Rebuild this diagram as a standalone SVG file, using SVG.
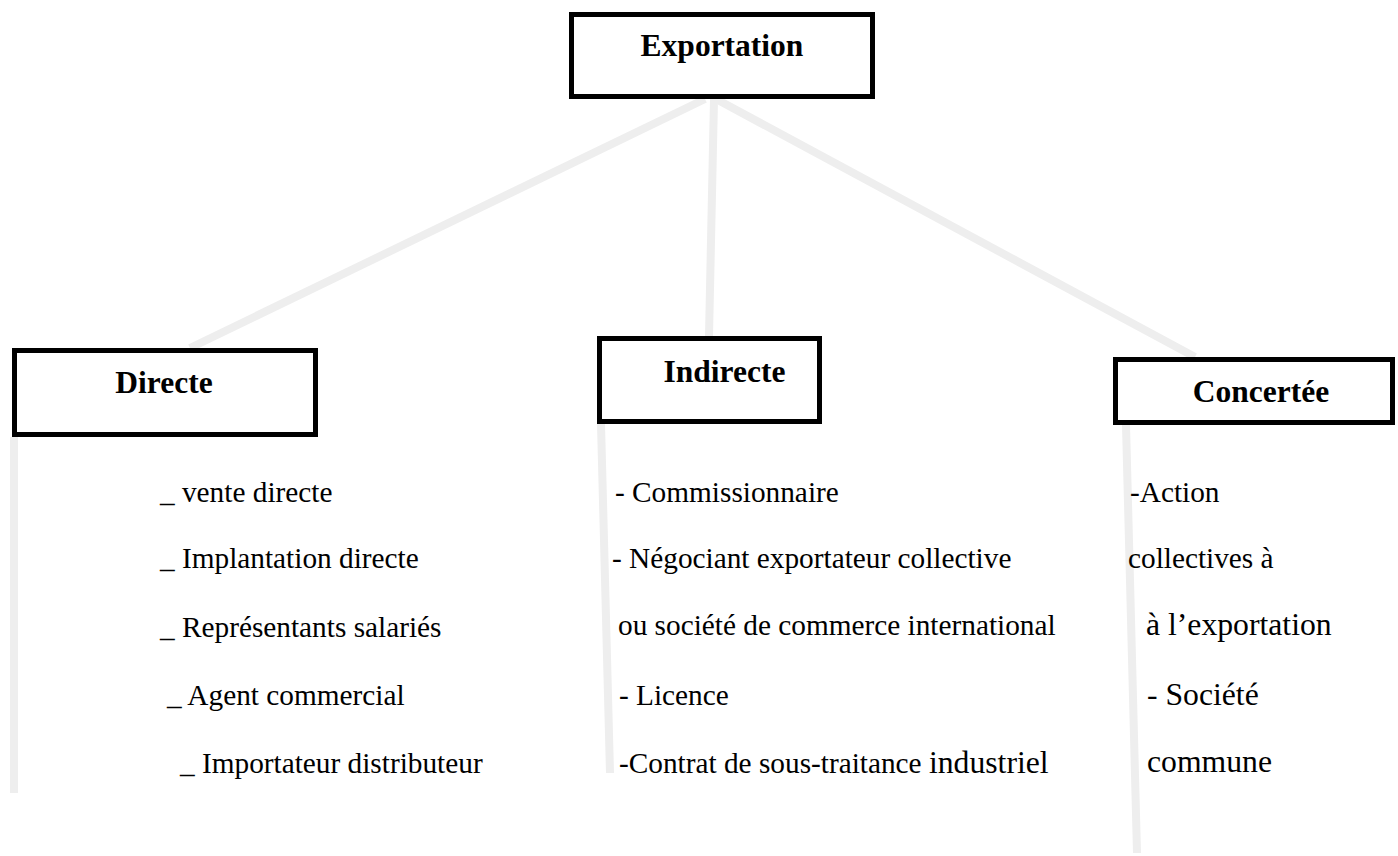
<svg xmlns="http://www.w3.org/2000/svg" width="1398" height="856" viewBox="0 0 1398 856">
<style>
.conn{stroke:#eeeeee;stroke-width:8;fill:none}
.box{fill:#ffffff;stroke:#000000;stroke-width:5}
.title{font-family:"Liberation Serif","Times New Roman",serif;font-weight:bold;font-size:31.5px;fill:#000}
.item{font-family:"Liberation Serif","Times New Roman",serif;font-size:29.3px;fill:#000}
.big{font-size:31.7px}
</style>
<rect width="1398" height="856" fill="#ffffff"/>
<g id="connectors">
<line class="conn" x1="705" y1="99" x2="190" y2="348"/>
<line class="conn" x1="714" y1="99" x2="709" y2="336"/>
<line class="conn" x1="716" y1="99" x2="1195" y2="357"/>
<line class="conn" x1="14" y1="437" x2="14" y2="793"/>
<line class="conn" x1="601" y1="424" x2="610" y2="773"/>
<line class="conn" x1="1126" y1="425" x2="1137" y2="853"/>
</g>
<g id="exportation">
<rect class="box" x="571.5" y="14.5" width="301" height="82"/>
<text class="title" x="722" y="56" text-anchor="middle">Exportation</text>
</g>
<g id="directe">
<rect class="box" x="14.5" y="350.5" width="301" height="84"/>
<text class="title" x="164" y="393" text-anchor="middle">Directe</text>
</g>
<g id="indirecte">
<rect class="box" x="599.5" y="338.5" width="220" height="83"/>
<text class="title" x="724.5" y="382" text-anchor="middle">Indirecte</text>
</g>
<g id="concertee">
<rect class="box" x="1115.5" y="359.5" width="277" height="63"/>
<text class="title" x="1261" y="402" text-anchor="middle">Concertée</text>
</g>
<g id="directe-items">
<text class="item" x="160" y="502">_ vente directe</text>
<text class="item" x="160" y="568">_ Implantation directe</text>
<text class="item" x="160" y="637">_ Représentants salariés</text>
<text class="item" x="167" y="705">_ Agent commercial</text>
<text class="item" x="180" y="773">_ Importateur distributeur</text>
</g>
<g id="indirecte-items">
<text class="item" x="615" y="502">- Commissionnaire</text>
<text class="item" x="612" y="568">- Négociant exportateur collective</text>
<text class="item" x="618" y="635">ou société de commerce international</text>
<text class="item" x="619" y="705">- Licence</text>
<text class="item" x="619" y="773">-Contrat de sous-traitance <tspan class="big">industriel</tspan></text>
</g>
<g id="concertee-items">
<text class="item" x="1130" y="502">-Action</text>
<text class="item" x="1128" y="568">collectives à</text>
<text class="item big" x="1146" y="635">à l’exportation</text>
<text class="item big" x="1147" y="705">- Société</text>
<text class="item big" x="1147" y="772">commune</text>
</g>
</svg>
